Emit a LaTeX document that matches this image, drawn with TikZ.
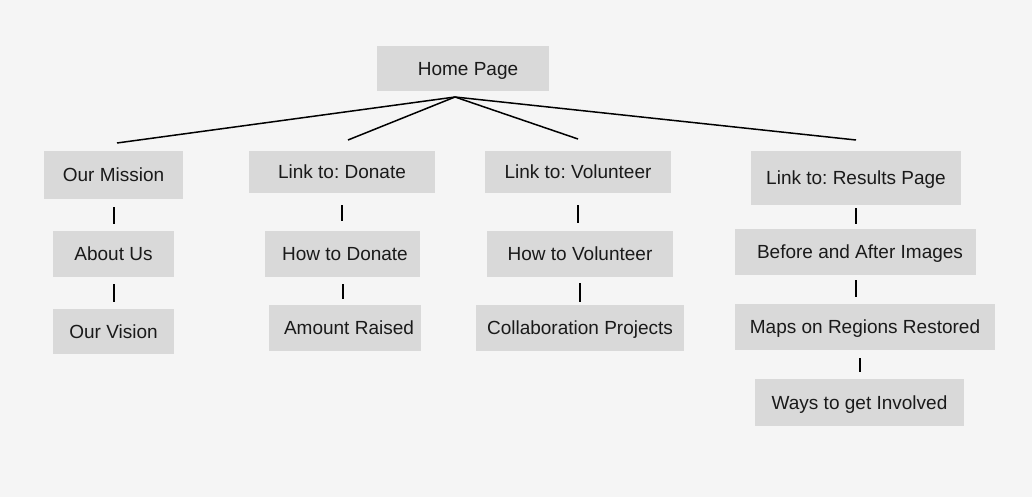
\documentclass[tikz,border=0pt]{standalone}
\usepackage{fontspec}
\setmainfont{Liberation Sans}
\usetikzlibrary{calc}
\definecolor{pagebg}{HTML}{F5F5F5}
\definecolor{boxfill}{HTML}{D9D9D9}
\definecolor{ink}{HTML}{1A1A1A}
\frenchspacing
\begin{document}
\begin{tikzpicture}[x=1pt,y=-1pt,
  box/.style={rectangle, fill=boxfill, draw=none, inner sep=0pt, text=ink,
    text height=13.5pt, text depth=0pt,
    font=\fontsize{19}{23}\selectfont},
  link/.style={draw=black, line width=1.5pt},
  tick/.style={draw=black, line width=2pt}]
  % page
  \fill[pagebg] (0,0) rectangle (1032,497);
  \useasboundingbox (0,0) rectangle (1032,497);

  % root
  \node[box, minimum width=172pt, minimum height=45pt] (home) at (463,68.5) {\hspace*{10pt}Home Page};

  % column 1
  \node[box, minimum width=139pt, minimum height=48pt] (mission) at (113.5,175) {Our Mission};
  \node[box, minimum width=121pt, minimum height=46pt] (about) at (113.5,254) {About Us};
  \node[box, minimum width=121pt, minimum height=45pt] (vision) at (113.5,331.5) {Our Vision};

  % column 2
  \node[box, minimum width=186pt, minimum height=42pt] (donate) at (342,172) {Link to: Donate};
  \node[box, minimum width=155pt, minimum height=46pt] (howdonate) at (342.5,254) {\hspace*{5pt}How to Donate};
  \node[box, minimum width=152pt, minimum height=46pt] (amount) at (345,328) {\hspace*{8pt}Amount Raised};

  % column 3
  \node[box, minimum width=186pt, minimum height=42pt] (volunteer) at (578,172) {Link to: Volunteer};
  \node[box, minimum width=186pt, minimum height=46pt] (howvol) at (580,254) {How to Volunteer};
  \node[box, minimum width=208pt, minimum height=46pt] (collab) at (580,328) {Collaboration Projects};

  % column 4
  \node[box, minimum width=210pt, minimum height=54pt] (results) at (856,178) {Link to: Results Page};
  \node[box, minimum width=241pt, minimum height=46pt] (before) at (855.5,252) {\hspace*{9pt}Before and After Images};
  \node[box, minimum width=260pt, minimum height=46pt] (maps) at (865,327) {Maps on Regions Restored};
  \node[box, minimum width=209pt, minimum height=47pt] (ways) at (859.5,402.5) {Ways to get Involved};

  % fan-out from the root
  \coordinate (hub) at (455,97);
  \coordinate (mission-in) at (117,143);
  \coordinate (donate-in) at (348,140);
  \coordinate (volunteer-in) at (578,139);
  \coordinate (results-in) at (856,140);
  \draw[link] (hub) -- (mission-in);
  \draw[link] (hub) -- (donate-in);
  \draw[link] (hub) -- (volunteer-in);
  \draw[link] (hub) -- (results-in);

  % short vertical ticks between stacked boxes
  \draw[tick, shorten <=8pt, shorten >=7pt] (mission.south) -- (mission.south |- about.north);
  \draw[tick, shorten <=7pt, shorten >=7pt] (about.south) -- (about.south |- vision.north);
  \draw[tick, shorten <=12pt, shorten >=10pt] (donate.south) -- (donate.south |- howdonate.north);
  \draw[tick, shorten <=7pt, shorten >=6pt] (howdonate.south) -- (howdonate.south |- amount.north);
  \draw[tick, shorten <=12pt, shorten >=8pt] (volunteer.south) -- (volunteer.south |- howvol.north);
  \draw[tick, shorten <=6pt, shorten >=3pt] (howvol.south) -- (howvol.south |- collab.north);
  \draw[tick, shorten <=3pt, shorten >=5pt] (results.south) -- (results.south |- before.north);
  \draw[tick, shorten <=5pt, shorten >=7pt] (before.south) -- (before.south |- maps.north);
  \draw[tick, shorten <=8pt, shorten >=7pt] (ways.north |- maps.south) -- (ways.north);
\end{tikzpicture}
\end{document}
